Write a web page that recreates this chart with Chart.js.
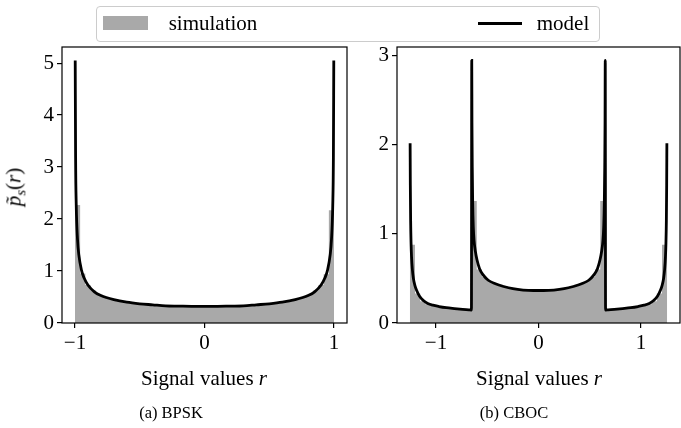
<!DOCTYPE html>
<html>
<head>
<meta charset="utf-8">
<script src="https://cdn.jsdelivr.net/npm/chart.js@4.4.1/dist/chart.umd.min.js"></script>
<style>
  html, body { margin: 0; padding: 0; background: #fff; }
  #fig { position: relative; width: 681px; height: 428px; overflow: hidden;
         font-family: 'Liberation Serif', 'Times New Roman', serif; color: #000; }
  canvas { position: absolute; top: 0; }
  .t { position: absolute; white-space: nowrap; line-height: 1; transform: translate(-50%, -50%); }
  .legend { position: absolute; left: 96px; top: 6px; width: 502px; height: 34px;
            border: 1px solid #cccccc; border-radius: 4px; background: rgba(255,255,255,0.8); }
</style>
</head>
<body>
<div id="fig">
  <canvas id="bpsk" width="360" height="428" style="left:0"></canvas>
  <canvas id="cboc" width="341" height="428" style="left:340px"></canvas>

  <div class="legend"></div>
  <div style="position:absolute;left:103px;top:16px;width:45px;height:14px;background:#a9a9a9"></div>
  <div class="t" style="left:213px;top:23px;font-size:21px">simulation</div>
  <div style="position:absolute;left:478px;top:22px;width:44px;height:3px;background:#000"></div>
  <div class="t" style="left:563px;top:23px;font-size:21px">model</div>

  <div class="t" style="left:16px;top:187px;font-size:21px;transform:translate(-50%,-50%) rotate(-90deg)"><i>p̃</i><sub style="font-size:15px"><i>s</i></sub>(<i>r</i>)</div>

  <div class="t" style="left:204px;top:378px;font-size:21px">Signal values <i>r</i></div>
  <div class="t" style="left:539px;top:378px;font-size:21px">Signal values <i>r</i></div>
  <div class="t" style="left:171px;top:413px;font-size:16.5px">(a) BPSK</div>
  <div class="t" style="left:514px;top:413px;font-size:16.5px">(b) CBOC</div>
</div>

<script>
// BPSK - simulation (histogram, 50 bins) and model
const bpskRange = [-1, 1];
const bpskHist = [2.27, 0.95, 0.73, 0.63, 0.56, 0.51, 0.47, 0.45, 0.42, 0.41,
                  0.39, 0.38, 0.37, 0.36, 0.35, 0.34, 0.34, 0.33, 0.33, 0.33,
                  0.32, 0.32, 0.32, 0.32, 0.32, 0.32, 0.32, 0.32, 0.32, 0.32,
                  0.33, 0.33, 0.33, 0.34, 0.34, 0.35, 0.36, 0.37, 0.38, 0.39,
                  0.41, 0.42, 0.45, 0.47, 0.51, 0.56, 0.63, 0.73, 0.94, 2.17];
const bpskModelX = [-0.998, -0.995, -0.99, -0.98, -0.97, -0.95, -0.93, -0.90, -0.85, -0.80,
                    -0.70, -0.60, -0.50, -0.40, -0.30, -0.20, -0.10, 0,
                    0.10, 0.20, 0.30, 0.40, 0.50, 0.60, 0.70,
                    0.80, 0.85, 0.90, 0.93, 0.95, 0.97, 0.98, 0.99, 0.995, 0.998];
const bpskModelY = [5.05, 3.19, 2.26, 1.60, 1.31, 1.02, 0.87, 0.73, 0.60, 0.53,
                    0.45, 0.40, 0.37, 0.35, 0.33, 0.325, 0.32, 0.32,
                    0.32, 0.325, 0.33, 0.35, 0.37, 0.40, 0.45,
                    0.53, 0.60, 0.73, 0.87, 1.02, 1.31, 1.60, 2.26, 3.19, 5.05];

// CBOC
const cbocRange = [-1.2546, 1.2546];
const cbocHist = [0.88, 0.33, 0.245, 0.21, 0.195, 0.182, 0.172, 0.165, 0.16, 0.155, 0.15, 0.146,
                  1.37, 0.60, 0.52, 0.475, 0.45, 0.43, 0.415, 0.40, 0.385, 0.375, 0.37, 0.365, 0.362,
                  0.362, 0.365, 0.37, 0.375, 0.385, 0.40, 0.415, 0.43, 0.45, 0.475, 0.52, 0.60, 1.37,
                  0.146, 0.15, 0.155, 0.16, 0.165, 0.172, 0.182, 0.195, 0.21, 0.245, 0.33, 0.88];
const cbocModelX = [-1.252, -1.250, -1.247, -1.243, -1.238, -1.230, -1.220, -1.205, -1.19, -1.16,
                    -1.12, -1.08, -1.03, -0.97, -0.90, -0.82, -0.74, -0.68, -0.654,
                    -0.651, -0.649, -0.646, -0.642, -0.636, -0.628, -0.615, -0.60, -0.575, -0.54,
                    -0.49, -0.42, -0.34, -0.25, -0.15, -0.05, 0,
                    0.05, 0.15, 0.25, 0.34, 0.42, 0.49,
                    0.54, 0.575, 0.60, 0.615, 0.628, 0.636, 0.642, 0.646, 0.649, 0.651,
                    0.654, 0.68, 0.74, 0.82, 0.90, 0.97, 1.03, 1.08, 1.12,
                    1.16, 1.19, 1.205, 1.220, 1.230, 1.238, 1.243, 1.247, 1.250, 1.252];
const cbocModelY = [2.02, 1.55, 1.15, 0.90, 0.74, 0.60, 0.50, 0.42, 0.37, 0.30,
                    0.25, 0.22, 0.20, 0.185, 0.172, 0.162, 0.153, 0.147, 0.145,
                    2.95, 2.25, 1.75, 1.35, 1.08, 0.92, 0.80, 0.71, 0.61, 0.54,
                    0.48, 0.44, 0.41, 0.385, 0.37, 0.365, 0.365,
                    0.365, 0.37, 0.385, 0.41, 0.44, 0.48,
                    0.54, 0.61, 0.71, 0.80, 0.92, 1.08, 1.35, 1.75, 2.25, 2.95,
                    0.145, 0.147, 0.153, 0.162, 0.172, 0.185, 0.20, 0.22, 0.25,
                    0.30, 0.37, 0.42, 0.50, 0.60, 0.74, 0.90, 1.15, 1.55, 2.02];

const bpskTicksX = [-1, 0, 1];
const bpskTicksY = [0, 1, 2, 3, 4, 5];
const cbocTicksX = [-1, 0, 1];
const cbocTicksY = [0, 1, 2, 3];

Chart.defaults.font.family = "'Liberation Serif', 'Times New Roman', serif";
Chart.defaults.font.size = 21;
Chart.defaults.color = '#000';

// histogram as stepped filled line, points on the bin edges
function histPoints(range, values) {
  const w = (range[1] - range[0]) / values.length;
  const pts = values.map((v, i) => ({ x: range[0] + i * w, y: v }));
  pts.push({ x: range[1], y: values[values.length - 1] });
  return pts;
}

function fmt(v) {
  return v < 0 ? '\u2212' + Math.abs(v) : String(v);
}

// top/right spines like matplotlib
const boxPlugin = {
  id: 'box',
  afterDraw(chart) {
    const { ctx, chartArea: a } = chart;
    ctx.save();
    ctx.strokeStyle = '#000';
    ctx.lineWidth = 1.2;
    ctx.strokeRect(a.left, a.top, a.right - a.left, a.bottom - a.top);
    ctx.restore();
  }
};

function axis(min, max, ticks, fitKey, fitVal) {
  return {
    type: 'linear',
    min: min,
    max: max,
    border: { display: false },
    grid: { drawOnChartArea: false, drawTicks: true, tickLength: 5, color: '#000', lineWidth: 1.2 },
    ticks: { padding: 3, callback: fmt, maxRotation: 0 },
    afterBuildTicks: (s) => { s.ticks = ticks.map(v => ({ value: v })); },
    afterFit: (s) => { s[fitKey] = fitVal; }
  };
}

function makeChart(id, hist, range, mx, my, xr, yr, tx, ty, yWidth, padRight) {
  return new Chart(document.getElementById(id), {
    type: 'line',
    data: {
      datasets: [
        {
          label: 'model',
          data: mx.map((x, i) => ({ x: x, y: my[i] })),
          borderColor: '#000',
          borderWidth: 2.8,
          pointRadius: 0,
          cubicInterpolationMode: 'monotone',
          fill: false,
          order: 1
        },
        {
          label: 'simulation',
          data: histPoints(range, hist),
          stepped: 'before',
          borderWidth: 0,
          borderColor: 'rgba(0,0,0,0)',
          backgroundColor: '#a9a9a9',
          pointRadius: 0,
          fill: 'origin',
          order: 2
        }
      ]
    },
    options: {
      responsive: false,
      animation: false,
      layout: { padding: { left: 0, right: padRight, top: 47, bottom: 65 } },
      plugins: { legend: { display: false }, tooltip: { enabled: false } },
      scales: {
        x: axis(xr[0], xr[1], tx, 'height', 40),
        y: axis(yr[0], yr[1], ty, 'width', yWidth)
      }
    },
    plugins: [boxPlugin]
  });
}

makeChart('bpsk', bpskHist, bpskRange, bpskModelX, bpskModelY,
          [-1.1, 1.1], [0, 5.31], bpskTicksX, bpskTicksY, 62, 13);
makeChart('cboc', cbocHist, cbocRange, cbocModelX, cbocModelY,
          [-1.38, 1.38], [0, 3.1], cbocTicksX, cbocTicksY, 57, 1);
</script>
</body>
</html>
